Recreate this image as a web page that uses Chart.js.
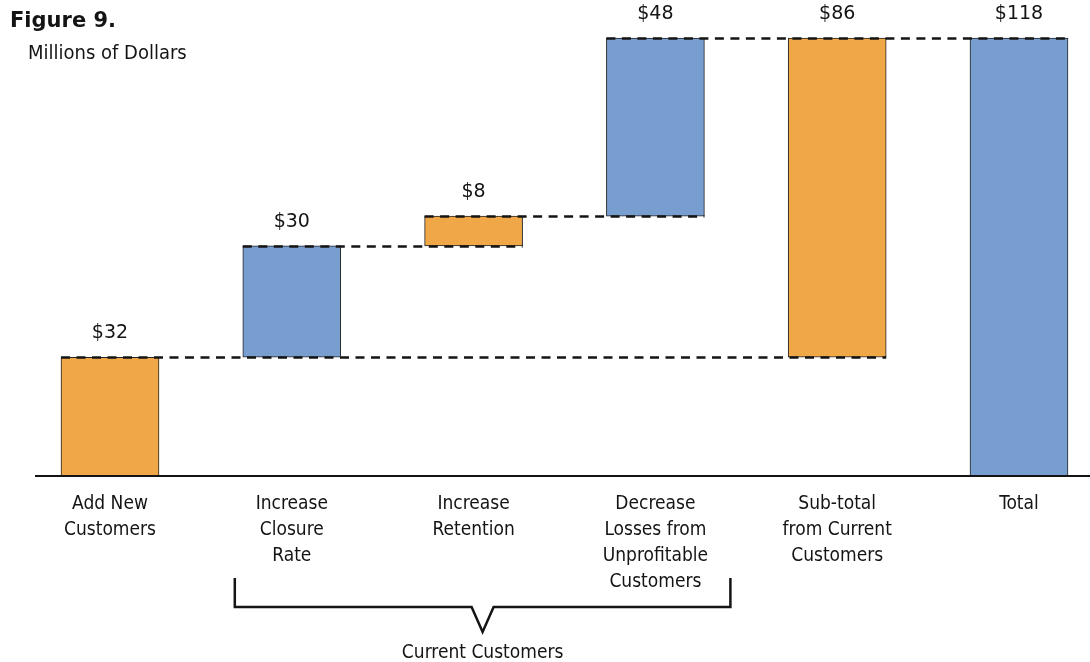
<!DOCTYPE html>
<html>
<head>
<meta charset="utf-8">
<script src="https://cdn.jsdelivr.net/npm/chart.js@4/dist/chart.umd.min.js"></script>
<style>
  html, body { margin: 0; padding: 0; background: #fff; }
  #wrap { position: relative; width: 1090px; height: 662px; }
</style>
</head>
<body>
<div id="wrap"><canvas id="waterfall" width="1090" height="662"></canvas></div>
<script>
// step labels, where each step starts and how much it adds (millions)
const steps = [
    ['Add New', 'Customers'],
    ['Increase', 'Closure', 'Rate'],
    ['Increase', 'Retention'],
    ['Decrease', 'Losses from', 'Unprofitable', 'Customers'],
    ['Sub-total', 'from Current', 'Customers'],
    ['Total']
];
const stepStart = [0, 32, 62, 70, 32, 0];
const stepAmount = [32, 30, 8, 48, 86, 118];
const stepColor = ['#EFA748', '#789ECF', '#EFA748', '#789ECF', '#EFA748', '#789ECF'];

// dashed level lines: value, first bar, last bar
const levelValue = [32, 62, 70, 118];
const levelFrom = [0, 1, 2, 3];
const levelTo = [4, 2, 3, 5];

// bracket under the current-customer steps
const groupFrom = 1;
const groupTo = 3;
const groupLabel = 'Current Customers';

const INK = '#141414';
const LABEL_FONT = '"DejaVu Sans Condensed", "DejaVu Sans", sans-serif';

const levelLines = {
    id: 'levelLines',
    afterDatasetsDraw(chart) {
        const ctx = chart.ctx;
        const y = chart.scales.y;
        const bars = chart.getDatasetMeta(0).data;
        ctx.save();
        ctx.strokeStyle = INK;
        ctx.lineWidth = 2.5;
        ctx.setLineDash([9, 6.5]);
        levelValue.forEach((v, i) => {
            const a = bars[levelFrom[i]];
            const b = bars[levelTo[i]];
            const py = Math.round(y.getPixelForValue(v)) + 0.5;
            ctx.beginPath();
            ctx.moveTo(a.x - a.width / 2, py);
            ctx.lineTo(b.x + b.width / 2, py);
            ctx.stroke();
        });
        ctx.restore();
    }
};

const valueLabels = {
    id: 'valueLabels',
    afterDatasetsDraw(chart) {
        const ctx = chart.ctx;
        const bars = chart.getDatasetMeta(0).data;
        ctx.save();
        ctx.fillStyle = INK;
        ctx.font = '19px "DejaVu Sans", sans-serif';
        ctx.textAlign = 'center';
        ctx.textBaseline = 'middle';
        bars.forEach((bar, i) => {
            const top = Math.min(bar.y, bar.base);
            ctx.fillText('$' + stepAmount[i], bar.x, top - 24);
        });
        ctx.restore();
    }
};

// baseline, titles and the group bracket
const decorations = {
    id: 'decorations',
    afterDraw(chart) {
        const ctx = chart.ctx;
        const x = chart.scales.x;
        const y = chart.scales.y;
        const zero = Math.round(y.getPixelForValue(0));
        ctx.save();
        ctx.strokeStyle = INK;
        ctx.lineWidth = 2;
        ctx.beginPath();
        ctx.moveTo(35, zero);
        ctx.lineTo(1090, zero);
        ctx.stroke();

        ctx.fillStyle = INK;
        ctx.textBaseline = 'middle';
        ctx.font = 'bold 21px "DejaVu Sans", sans-serif';
        ctx.fillText('Figure 9.', 10, 22);
        ctx.font = '20px ' + LABEL_FONT;
        ctx.fillText('Millions of Dollars', 28, 54);

        const left = x.getPixelForValue(groupFrom) - 57;
        const right = x.getPixelForValue(groupTo) + 75;
        const mid = (left + right) / 2;
        const top = zero + 102, bar = zero + 131, tip = zero + 156;
        ctx.lineWidth = 2.5;
        ctx.lineJoin = 'miter';
        ctx.beginPath();
        ctx.moveTo(left, top);
        ctx.lineTo(left, bar);
        ctx.lineTo(mid - 11, bar);
        ctx.lineTo(mid, tip);
        ctx.lineTo(mid + 11, bar);
        ctx.lineTo(right, bar);
        ctx.lineTo(right, top);
        ctx.stroke();

        ctx.textAlign = 'center';
        ctx.font = '19px ' + LABEL_FONT;
        ctx.fillText(groupLabel, mid, zero + 177);
        ctx.restore();
    }
};

new Chart(document.getElementById('waterfall'), {
    type: 'bar',
    data: {
        labels: steps,
        datasets: [{
            data: stepStart.map((s, i) => [s, s + stepAmount[i]]),
            backgroundColor: stepColor,
            borderColor: '#222',
            borderWidth: 1,
            borderSkipped: false,
            barThickness: 98,
            clip: false
        }]
    },
    options: {
        responsive: false,
        devicePixelRatio: 1,
        animation: false,
        layout: {
            padding: { left: 110, right: 71, top: 38, bottom: 0 }
        },
        plugins: {
            legend: { display: false },
            tooltip: { enabled: false }
        },
        scales: {
            x: {
                offset: false,
                grid: { display: false, drawTicks: false },
                border: { display: false },
                ticks: {
                    autoSkip: false,
                    maxRotation: 0,
                    padding: 15,
                    color: INK,
                    font: { family: LABEL_FONT, size: 19, lineHeight: 26 / 19 }
                },
                afterFit(scale) {
                    scale.height = 186;
                }
            },
            y: {
                display: false,
                min: 0,
                max: 118
            }
        }
    },
    plugins: [levelLines, valueLabels, decorations]
});
</script>
</body>
</html>
